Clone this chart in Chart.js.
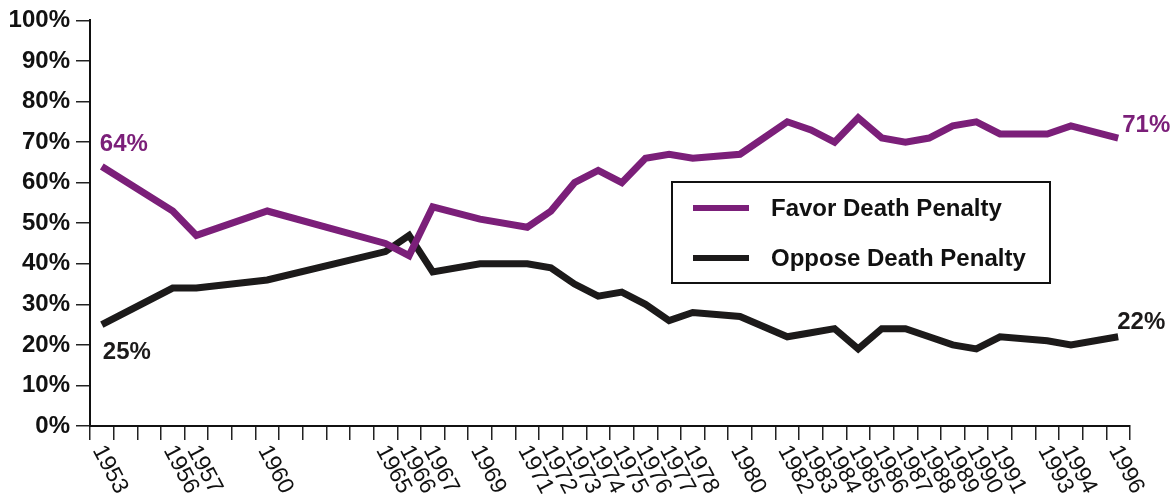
<!DOCTYPE html>
<html>
<head>
<meta charset="utf-8">
<script src="https://cdn.jsdelivr.net/npm/chart.js@4/dist/chart.umd.min.js"></script>
<style>
    html, body { margin: 0; padding: 0; background: #ffffff; }
    #chartDiv { width: 1172px; height: 496px; }
</style>
</head>
<body>
<div id="chartDiv"><canvas id="deathPenaltyChart"></canvas></div>
<script>
// survey years (only these get a label on the x axis)
const years = [1953, 1956, 1957, 1960, 1965, 1966, 1967, 1969, 1971, 1972, 1973, 1974, 1975, 1976, 1977,
    1978, 1980, 1982, 1983, 1984, 1985, 1986, 1987, 1988, 1989, 1990, 1991, 1993, 1994, 1996];
const favor = [64, 53, 47, 53, 45, 42, 54, 51, 49, 53, 60, 63, 60, 66, 67,
    66, 67, 75, 73, 70, 76, 71, 70, 71, 74, 75, 72, 72, 74, 71];
const oppose = [25, 34, 34, 36, 43, 47, 38, 40, 40, 39, 35, 32, 33, 30, 26,
    28, 27, 22, 23, 24, 19, 24, 24, 22, 20, 19, 22, 21, 20, 22];
const seriesNames = ['Favor Death Penalty', 'Oppose Death Penalty'];
const seriesColors = ['#7b1f79', '#1c1a1a'];

// one category per calendar year, so the spacing follows time
let allYears = [];
for (let y = years[0]; y <= years[years.length - 1]; y++) {
    allYears.push(String(y));
}

function toPoints(values) {
    return years.map((y, i) => ({ x: String(y), y: values[i] }));
}

const boldFont = 'bold 24px "Liberation Sans", Arial, sans-serif';

// rotated year labels, end labels and the boxed legend
const extrasPlugin = {
    id: 'extras',
    afterDraw(chart) {
        const ctx = chart.ctx;
        const xs = chart.scales.x;
        const ys = chart.scales.y;
        const axisY = ys.getPixelForValue(0);

        ctx.save();
        ctx.fillStyle = '#111111';
        ctx.font = '23px "Liberation Sans", Arial, sans-serif';
        ctx.textAlign = 'left';
        ctx.textBaseline = 'middle';
        years.forEach(y => {
            const px = xs.getPixelForValue(allYears.indexOf(String(y)));
            ctx.save();
            ctx.translate(px - 4, axisY + 21);
            ctx.rotate(62 * Math.PI / 180);
            ctx.fillText(String(y), 0, 0);
            ctx.restore();
        });

        // first and last values
        const last = years.length - 1;
        const fx0 = xs.getPixelForValue(0);
        const fxN = xs.getPixelForValue(allYears.length - 1);
        ctx.font = boldFont;
        ctx.textBaseline = 'alphabetic';
        ctx.fillStyle = seriesColors[0];
        ctx.fillText(favor[0] + '%', fx0 - 2, ys.getPixelForValue(favor[0]) - 15);
        ctx.fillText(favor[last] + '%', fxN + 4, ys.getPixelForValue(favor[last]) - 6);
        ctx.fillStyle = seriesColors[1];
        ctx.fillText(oppose[0] + '%', fx0 + 1, ys.getPixelForValue(oppose[0]) + 34);
        ctx.fillText(oppose[last] + '%', fxN - 1, ys.getPixelForValue(oppose[last]) - 8);

        // legend box
        const bx = 672, by = 182, bw = 378, bh = 101;
        ctx.strokeStyle = '#111111';
        ctx.lineWidth = 2;
        ctx.strokeRect(bx, by, bw, bh);
        ctx.font = 'bold 24px "Liberation Sans", Arial, sans-serif';
        ctx.textBaseline = 'middle';
        seriesNames.forEach((name, i) => {
            const ly = by + 26 + i * 50;
            ctx.strokeStyle = seriesColors[i];
            ctx.lineWidth = 6;
            ctx.beginPath();
            ctx.moveTo(bx + 21, ly);
            ctx.lineTo(bx + 77, ly);
            ctx.stroke();
            ctx.fillStyle = '#111111';
            ctx.fillText(name, bx + 99, ly + 1);
        });
        ctx.restore();
    }
};

var ctx = document.getElementById('deathPenaltyChart');

const myChart = new Chart(ctx, {
    type: 'line',
    data: {
        labels: allYears,
        datasets: [
            {
                label: seriesNames[0],
                data: toPoints(favor),
                borderColor: seriesColors[0],
                backgroundColor: seriesColors[0],
                borderWidth: 7,
                pointRadius: 0,
                tension: 0
            },
            {
                label: seriesNames[1],
                data: toPoints(oppose),
                borderColor: seriesColors[1],
                backgroundColor: seriesColors[1],
                borderWidth: 7,
                pointRadius: 0,
                tension: 0
            }
        ]
    },
    options: {
        responsive: true,
        maintainAspectRatio: false,
        animation: false,
        layout: { padding: { top: 20, right: 42, left: 0, bottom: 0 } },
        plugins: {
            legend: { display: false },
            tooltip: { enabled: false }
        },
        scales: {
            x: {
                type: 'category',
                offset: true,
                grid: {
                    offset: true,
                    drawOnChartArea: false,
                    drawTicks: true,
                    tickLength: 14,
                    color: '#222222',
                    lineWidth: 1.5
                },
                border: { color: '#111111', width: 2 },
                ticks: { display: false },
                afterFit: function (scale) { scale.height = 70; }
            },
            y: {
                min: 0,
                max: 100,
                grid: {
                    drawOnChartArea: false,
                    tickLength: 14,
                    color: '#222222',
                    lineWidth: 1.5
                },
                border: { color: '#111111', width: 2 },
                ticks: {
                    stepSize: 10,
                    padding: 6,
                    color: '#111111',
                    font: { family: '"Liberation Sans", Arial, sans-serif', size: 24, weight: 'bold' },
                    callback: function (value) { return value + '%'; }
                },
                afterFit: function (scale) { scale.width = 90; }
            }
        }
    },
    plugins: [extrasPlugin]
});
</script>
</body>
</html>
